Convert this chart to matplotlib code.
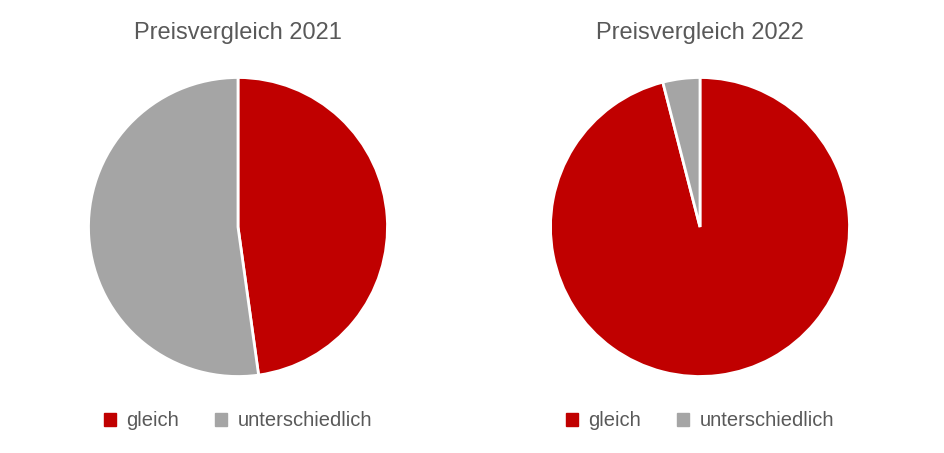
import matplotlib.pyplot as plt
from matplotlib.patches import Patch

labels = ["gleich", "unterschiedlich"]
values_2021 = [47.8, 52.2]
values_2022 = [96.0, 4.0]
titles = ["Preisvergleich 2021", "Preisvergleich 2022"]
colors = ["#C00000", "#A5A5A5"]

plt.rcParams["font.family"] = ["Liberation Sans", "DejaVu Sans"]
fig = plt.figure(figsize=(9.45, 4.53), dpi=100)

centers_x = [238, 700]
for cx, vals, title in zip(centers_x, [values_2021, values_2022], titles):
    ax = fig.add_axes([(cx - 151) / 945, (226 - 151) / 453, 302 / 945, 302 / 453])
    ax.pie(vals, colors=colors, startangle=90, counterclock=False,
           wedgeprops=dict(edgecolor="white", linewidth=2))
    ax.set_xlim(-1.01, 1.01)
    ax.set_ylim(-1.01, 1.01)
    ax.set_aspect("equal")
    fig.text(cx / 945, 1 - 33 / 453, title, ha="center", va="center",
             fontsize=17, color="#595959")
    handles = [Patch(color=c, label=l) for c, l in zip(colors, labels)]
    fig.legend(handles=handles, loc="center", bbox_to_anchor=(cx / 945, 1 - 421 / 453),
               ncol=2, frameon=False, fontsize=14.5, labelcolor="#595959",
               handlelength=0.6, handleheight=0.6, handletextpad=0.5, columnspacing=1.8)

fig.savefig("out.png", dpi=100)
